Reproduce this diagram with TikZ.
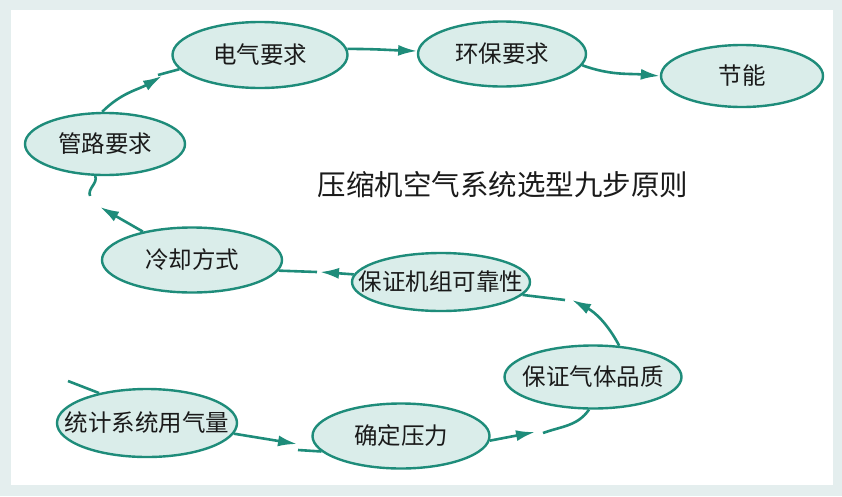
\documentclass[tikz,border=0pt]{standalone}
\usepackage{fontspec}
\newfontfamily\cjk{Noto Sans CJK SC}
\usetikzlibrary{shapes.geometric,arrows.meta}
\definecolor{linecol}{HTML}{1E8C7A}
\definecolor{stagefill}{HTML}{DAEDEA}
\definecolor{framecol}{HTML}{E4EEEE}
\definecolor{txt}{HTML}{1A1A1A}
\newcommand{\tx}[1]{\makebox[0pt]{#1}}
\begin{document}
\begin{tikzpicture}[x=1pt, y=-1pt, >={Latex[length=19pt,width=11pt]},
          stage/.style={ellipse, draw=linecol, line width=2.4pt, fill=stagefill, inner sep=0pt,
            text=txt, font=\cjk\fontsize{23.5}{23.5}\selectfont},
          link/.style={draw=linecol, line width=2.6pt}]
        \useasboundingbox (0,0) rectangle (842,496);
        \fill[framecol] (0,0) rectangle (842,496);
        \fill[white] (11,10) rectangle (833,485);
        % stages
        \node[stage, minimum width=180pt, minimum height=68pt] (tongji) at (147,423) {\tx{统计系统用气量}};
        \node[stage, minimum width=177pt, minimum height=65pt] (queding) at (401,436) {\tx{确定压力}};
        \node[stage, minimum width=177pt, minimum height=63pt] (pinzhi) at (593,377) {\tx{保证气体品质}};
        \node[stage, minimum width=178pt, minimum height=58pt] (kekao) at (441,282) {\tx{保证机组可靠性}};
        \node[stage, minimum width=180pt, minimum height=65pt] (lengque) at (192,260) {\tx{冷却方式}};
        \node[stage, minimum width=160pt, minimum height=62pt] (guanlu) at (105,144) {\tx{管路要求}};
        \node[stage, minimum width=175pt, minimum height=66pt] (dianqi) at (260,55) {\tx{电气要求}};
        \node[stage, minimum width=168pt, minimum height=65pt] (huanbao) at (502,54) {\tx{环保要求}};
        \node[stage, minimum width=162pt, minimum height=62pt] (jieneng) at (742,76) {\tx{节能}};
        \node[text=txt, font=\cjk\fontsize{28.5}{28.5}\selectfont] (title) at (503,185) {压缩机空气系统选型九步原则};
        % free ends of the broken links
        \coordinate (s0) at (68,381);
        \coordinate (t1) at (297,444);
        \coordinate (u1) at (298,450);
        \coordinate (t2) at (535,432);
        \coordinate (u2) at (543,433);
        \coordinate (t3) at (572,300);
        \coordinate (u3) at (565,300);
        \coordinate (t4) at (320,272);
        \coordinate (u4) at (317,272);
        \coordinate (t5) at (100,207);
        \coordinate (u5) at (90,196);
        \coordinate (t6) at (162,76);
        \coordinate (u6) at (158,75);
        % links
        \draw[link] (s0) -- (tongji.148);
        \draw[link, ->] (tongji.-7) -- (t1);
        \draw[link] (u1) -- (queding.191);
        \draw[link, ->] (queding.-3) -- (t2);
        \draw[link] (u2) to[out=20, in=-125] (pinzhi.-97);
        \draw[link, ->] (pinzhi.50) to[out=118, in=-28] (t3);
        \draw[link] (u3) -- (kekao.-9);
        \draw[link, ->] (kekao.175) -- (t4);
        \draw[link] (u4) -- (lengque.-7);
        \draw[link, ->] (lengque.150) -- (t5);
        \draw[link] (u5) to[out=110, in=-70] (guanlu.-107);
        \draw[link, ->] (guanlu.95) to[out=45, in=-150] (t6);
        \draw[link] (u6) -- (dianqi.190);
        \draw[link, ->] (dianqi.4) to[out=0, in=178] (huanbao.178);
        \draw[link, ->] (huanbao.-8) to[out=-20, in=175] (jieneng.180);
      \end{tikzpicture}
\end{document}
